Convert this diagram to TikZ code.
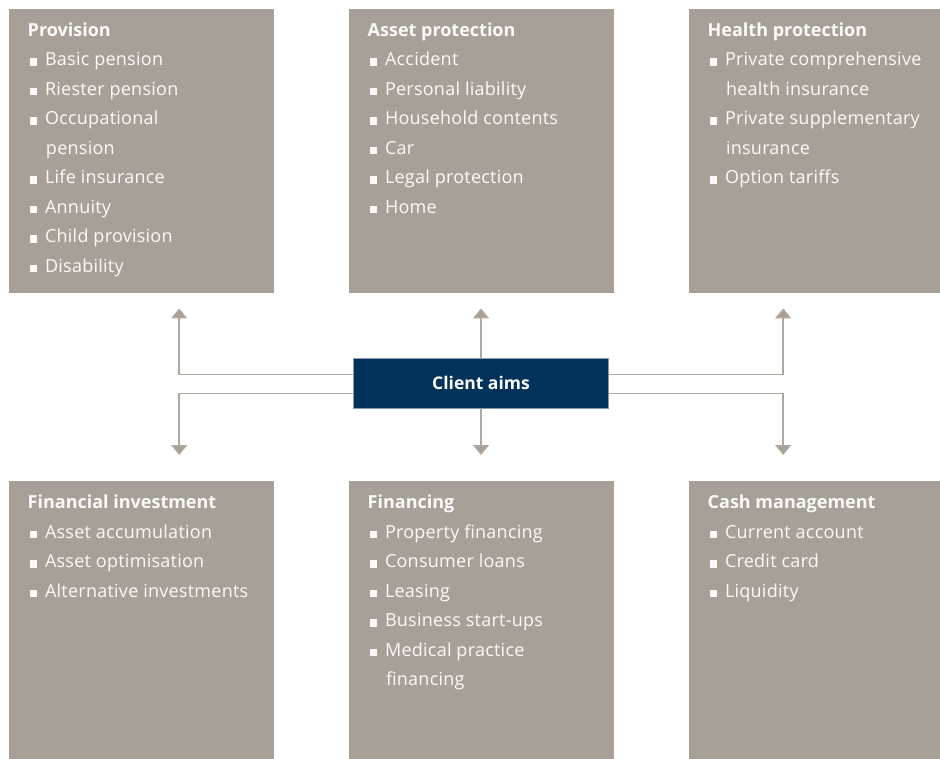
\documentclass[tikz,border=0pt]{standalone}
\usepackage{fontspec}
\setmainfont{Open Sans}[LetterSpace=1.4]
\usetikzlibrary{arrows.meta,calc}
\definecolor{boxgray}{HTML}{A8A097}
\definecolor{linegray}{HTML}{B0A99F}
\definecolor{navy}{HTML}{00325A}
\definecolor{navyborder}{HTML}{8A9AAC}
\definecolor{txt}{HTML}{FBFAF8}
\newcommand\itm[4]{\node[itemtext] (#1) at (#2,#3) {\rule{7.3pt}{7.3pt}\hspace{8.2pt}#4};}
\newcommand\cnt[4]{\node[itemtext] (#1) at (#2,#3) {\hspace{16.5pt}#4};}
\newcommand\ttl[4]{\node[titletext] (#1) at (#2,#3) {#4};}
\begin{document}
\begin{tikzpicture}[x=1pt,y=-1pt,
  panel/.style={fill=boxgray, draw=none, anchor=north west, minimum width=265pt, minimum height=284pt, inner sep=0pt},
  panelb/.style={panel, minimum height=300pt},
  itemtext/.style={anchor=base west, inner sep=0pt, text=txt, font=\fontsize{18}{20}\selectfont},
  titletext/.style={itemtext, font=\fontsize{18}{20}\selectfont\bfseries\addfontfeature{LetterSpace=0}},
  aims/.style={fill=navy, draw=navyborder, line width=0.8pt, minimum width=255pt, minimum height=50pt, inner sep=0pt, text=white, font=\fontsize{17.5}{20}\selectfont\bfseries\addfontfeature{LetterSpace=0}},
  arr/.style={draw=linegray, line width=1.5pt, -{Triangle[width=16pt,length=10pt,fill=boxgray]}}
]
\useasboundingbox (0,0) rectangle (940,758);
% panels
\node[panel] (prov) at (9,8.5) {};
\node[panel] (asset) at (349,8.5) {};
\node[panel] (health) at (689,8.5) {};
\node[panelb] (fin) at (9,481) {};
\node[panelb] (financing) at (349,481) {};
\node[panelb] (cash) at (689,481) {};
% centre
\node[aims] (ca) at (481,383.3) {Client aims};
% connectors
\draw[arr, shorten >=15.5pt] ([yshift=9pt]ca.west) -| ([xshift=37.5pt]prov.south);
\draw[arr, shorten >=15.5pt] (ca.north) -- (ca.north |- asset.south);
\draw[arr, shorten >=15.5pt] ([yshift=9pt]ca.east) -| ([xshift=-38.5pt]health.south);
\draw[arr, shorten >=26pt] ([yshift=-10pt]ca.west) -| ([xshift=37.5pt]fin.north);
\draw[arr, shorten >=26pt] (ca.south) -- (ca.south |- financing.north);
\draw[arr, shorten >=26pt] ([yshift=-10pt]ca.east) -| ([xshift=-38.5pt]cash.north);
% Provision
\ttl{t1}{27.5}{36.7}{Provision}
\itm{p1}{29.3}{65.7}{Basic pension}
\itm{p2}{29.3}{95.2}{Riester pension}
\itm{p3}{29.3}{124.7}{Occupational}
\cnt{p4}{29.3}{154.2}{pension}
\itm{p5}{29.3}{183.7}{Life insurance}
\itm{p6}{29.3}{213.2}{Annuity}
\itm{p7}{29.3}{242.7}{Child provision}
\itm{p8}{29.3}{272.2}{Disability}
% Asset protection
\ttl{t2}{367.5}{36.7}{Asset protection}
\itm{a1}{369.3}{65.7}{Accident}
\itm{a2}{369.3}{95.2}{Personal liability}
\itm{a3}{369.3}{124.7}{Household contents}
\itm{a4}{369.3}{154.2}{Car}
\itm{a5}{369.3}{183.7}{Legal protection}
\itm{a6}{369.3}{213.2}{Home}
% Health protection
\ttl{t3}{707.5}{36.7}{Health protection}
\itm{h1}{709.3}{65.7}{Private comprehensive}
\cnt{h2}{709.3}{95.2}{health insurance}
\itm{h3}{709.3}{124.7}{Private supplementary}
\cnt{h4}{709.3}{154.2}{insurance}
\itm{h5}{709.3}{183.7}{Option tariffs}
% Financial investment
\ttl{t4}{27.5}{508.7}{Financial investment}
\itm{f1}{29.3}{538.2}{Asset accumulation}
\itm{f2}{29.3}{567.7}{Asset optimisation}
\itm{f3}{29.3}{597.2}{Alternative investments}
% Financing
\ttl{t5}{367.5}{508.7}{Financing}
\itm{g1}{369.3}{538.2}{Property financing}
\itm{g2}{369.3}{567.7}{Consumer loans}
\itm{g3}{369.3}{597.2}{Leasing}
\itm{g4}{369.3}{626.7}{Business start-ups}
\itm{g5}{369.3}{656.2}{Medical practice}
\cnt{g6}{369.3}{685.7}{financing}
% Cash management
\ttl{t6}{707.5}{508.7}{Cash management}
\itm{c1}{709.3}{538.2}{Current account}
\itm{c2}{709.3}{567.7}{Credit card}
\itm{c3}{709.3}{597.2}{Liquidity}
\end{tikzpicture}
\end{document}
